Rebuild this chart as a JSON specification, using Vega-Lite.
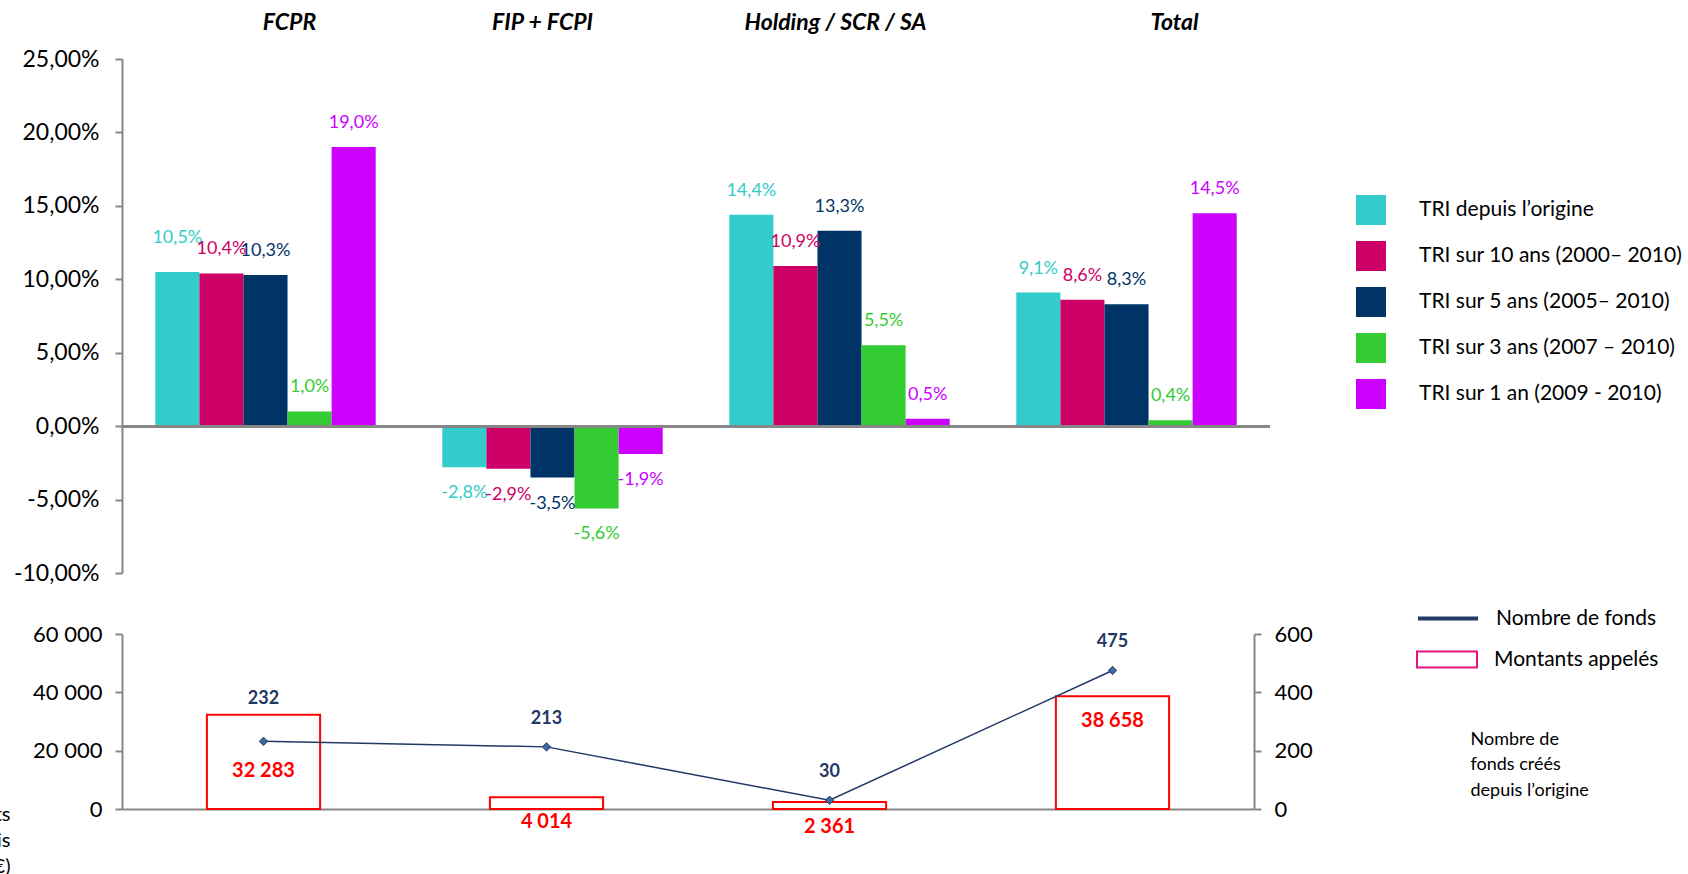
{
  "$schema": "https://vega.github.io/schema/vega-lite/v6.json",
  "background": "white",
  "padding": {"left": -120, "top": 11, "right": 5, "bottom": 0},
  "config": {
    "locale": {"number": {"decimal": ",", "thousands": " ", "grouping": [3], "currency": ["", " €"], "minus": "-"}},
    "font": "Lato",
    "view": {"stroke": null},
    "axis": {"grid": false, "labelFont": "Lato", "titleFont": "Lato", "labelColor": "#000000", "titleColor": "#000000", "domainColor": "#868686", "tickColor": "#868686", "domainWidth": 2, "tickWidth": 2, "tickSize": 7},
    "legend": {"labelFont": "Lato"}
  },
  "datasets": {
    "tri": [
      {"categorie": "FCPR", "serie": "TRI depuis l’origine", "tri": 0.105},
      {"categorie": "FCPR", "serie": "TRI sur 10 ans (2000– 2010)", "tri": 0.104},
      {"categorie": "FCPR", "serie": "TRI sur 5 ans (2005– 2010)", "tri": 0.103},
      {"categorie": "FCPR", "serie": "TRI sur 3 ans (2007 – 2010)", "tri": 0.010},
      {"categorie": "FCPR", "serie": "TRI sur 1 an (2009 - 2010)", "tri": 0.190},
      {"categorie": "FIP + FCPI", "serie": "TRI depuis l’origine", "tri": -0.028},
      {"categorie": "FIP + FCPI", "serie": "TRI sur 10 ans (2000– 2010)", "tri": -0.029},
      {"categorie": "FIP + FCPI", "serie": "TRI sur 5 ans (2005– 2010)", "tri": -0.035},
      {"categorie": "FIP + FCPI", "serie": "TRI sur 3 ans (2007 – 2010)", "tri": -0.056},
      {"categorie": "FIP + FCPI", "serie": "TRI sur 1 an (2009 - 2010)", "tri": -0.019},
      {"categorie": "Holding / SCR / SA", "serie": "TRI depuis l’origine", "tri": 0.144},
      {"categorie": "Holding / SCR / SA", "serie": "TRI sur 10 ans (2000– 2010)", "tri": 0.109},
      {"categorie": "Holding / SCR / SA", "serie": "TRI sur 5 ans (2005– 2010)", "tri": 0.133},
      {"categorie": "Holding / SCR / SA", "serie": "TRI sur 3 ans (2007 – 2010)", "tri": 0.055},
      {"categorie": "Holding / SCR / SA", "serie": "TRI sur 1 an (2009 - 2010)", "tri": 0.005},
      {"categorie": "Total", "serie": "TRI depuis l’origine", "tri": 0.091},
      {"categorie": "Total", "serie": "TRI sur 10 ans (2000– 2010)", "tri": 0.086},
      {"categorie": "Total", "serie": "TRI sur 5 ans (2005– 2010)", "tri": 0.083},
      {"categorie": "Total", "serie": "TRI sur 3 ans (2007 – 2010)", "tri": 0.004},
      {"categorie": "Total", "serie": "TRI sur 1 an (2009 - 2010)", "tri": 0.145}
    ],
    "fonds": [
      {"categorie": "FCPR", "montant": 32283, "nombre": 232},
      {"categorie": "FIP + FCPI", "montant": 4014, "nombre": 213},
      {"categorie": "Holding / SCR / SA", "montant": 2361, "nombre": 30},
      {"categorie": "Total", "montant": 38658, "nombre": 475}
    ]
  },
  "bounds": "flush",
  "spacing": 61,
  "vconcat": [
    {
      "width": 1148,
      "height": 514,
      "data": {"name": "tri"},
      "layer": [
        {
          "mark": {"type": "bar"},
          "encoding": {
            "x": {"field": "categorie", "type": "nominal", "sort": ["FCPR", "FIP + FCPI", "Holding / SCR / SA", "Total"], "scale": {"paddingInner": 0.232, "paddingOuter": 0.116},
              "axis": {"orient": "top", "title": null, "domain": false, "ticks": false, "labelAngle": 0, "labelFontSize": 23, "labelFontWeight": "bold", "labelFontStyle": "italic", "labelPadding": 25, "labelLimit": 400,
                "labelOffset": {"expr": "datum.value === 'FCPR' ? 24 : datum.value === 'FIP + FCPI' ? -10 : datum.value === 'Total' ? 48 : -4"}}},
            "xOffset": {"field": "serie", "type": "nominal", "sort": ["TRI depuis l’origine", "TRI sur 10 ans (2000– 2010)", "TRI sur 5 ans (2005– 2010)", "TRI sur 3 ans (2007 – 2010)", "TRI sur 1 an (2009 - 2010)"], "scale": {"paddingInner": 0, "paddingOuter": 0}},
            "y": {"field": "tri", "type": "quantitative", "scale": {"domain": [-0.1, 0.25], "nice": false},
              "axis": {"title": null, "format": ".2%", "values": [-0.1, -0.05, 0, 0.05, 0.1, 0.15, 0.2, 0.25], "labelFontSize": 23, "labelPadding": 16}},
            "color": {"field": "serie", "type": "nominal",
              "scale": {"domain": ["TRI depuis l’origine", "TRI sur 10 ans (2000– 2010)", "TRI sur 5 ans (2005– 2010)", "TRI sur 3 ans (2007 – 2010)", "TRI sur 1 an (2009 - 2010)"], "range": ["#33CCCC", "#CC0066", "#003366", "#33CC33", "#CC00FF"]},
              "legend": {"orient": "none", "legendX": 1234, "legendY": 136, "title": null, "symbolType": "square", "symbolSize": 900, "symbolStrokeWidth": 0, "symbolOpacity": 1, "labelFontSize": 21, "labelColor": "#000000", "labelOffset": 33, "rowPadding": 16, "padding": 0, "labelLimit": 400}}
          }
        },
        {
          "transform": [{"filter": "datum.tri >= 0 && !(datum.categorie === 'FCPR' && datum.serie === 'TRI depuis l’origine')"}],
          "mark": {"type": "text", "baseline": "middle", "dy": -24, "fontSize": 18},
          "encoding": {
            "x": {"field": "categorie", "type": "nominal", "sort": ["FCPR", "FIP + FCPI", "Holding / SCR / SA", "Total"]},
            "xOffset": {"field": "serie", "type": "nominal", "sort": ["TRI depuis l’origine", "TRI sur 10 ans (2000– 2010)", "TRI sur 5 ans (2005– 2010)", "TRI sur 3 ans (2007 – 2010)", "TRI sur 1 an (2009 - 2010)"]},
            "y": {"field": "tri", "type": "quantitative"},
            "color": {"field": "serie", "type": "nominal"},
            "text": {"field": "tri", "type": "quantitative", "format": ".1%"}
          }
        },
        {
          "transform": [{"filter": "datum.categorie === 'FCPR' && datum.serie === 'TRI depuis l’origine'"}],
          "mark": {"type": "text", "baseline": "middle", "dy": -34, "fontSize": 18},
          "encoding": {
            "x": {"field": "categorie", "type": "nominal", "sort": ["FCPR", "FIP + FCPI", "Holding / SCR / SA", "Total"]},
            "xOffset": {"field": "serie", "type": "nominal", "sort": ["TRI depuis l’origine", "TRI sur 10 ans (2000– 2010)", "TRI sur 5 ans (2005– 2010)", "TRI sur 3 ans (2007 – 2010)", "TRI sur 1 an (2009 - 2010)"]},
            "y": {"field": "tri", "type": "quantitative"},
            "color": {"field": "serie", "type": "nominal"},
            "text": {"field": "tri", "type": "quantitative", "format": ".1%"}
          }
        },
        {
          "transform": [{"filter": "datum.tri < 0"}],
          "mark": {"type": "text", "baseline": "middle", "dy": 26, "fontSize": 18},
          "encoding": {
            "x": {"field": "categorie", "type": "nominal", "sort": ["FCPR", "FIP + FCPI", "Holding / SCR / SA", "Total"]},
            "xOffset": {"field": "serie", "type": "nominal", "sort": ["TRI depuis l’origine", "TRI sur 10 ans (2000– 2010)", "TRI sur 5 ans (2005– 2010)", "TRI sur 3 ans (2007 – 2010)", "TRI sur 1 an (2009 - 2010)"]},
            "y": {"field": "tri", "type": "quantitative"},
            "color": {"field": "serie", "type": "nominal"},
            "text": {"field": "tri", "type": "quantitative", "format": ".1%"}
          }
        },
        {
          "mark": {"type": "rule", "color": "#868686", "strokeWidth": 2},
          "encoding": {"y": {"datum": 0}}
        }
      ]
    },
    {
      "width": 1132,
      "height": 175,
      "data": {"name": "fonds"},
      "layer": [
        {
          "layer": [
            {
              "mark": {"type": "bar", "stroke": "#FF0000", "strokeWidth": 2},
              "encoding": {
                "x": {"field": "categorie", "type": "nominal", "sort": ["FCPR", "FIP + FCPI", "Holding / SCR / SA", "Total"], "scale": {"paddingInner": 0.6, "paddingOuter": 0.3},
                  "axis": {"title": null, "labels": false, "ticks": false, "domain": true}},
                "y": {"field": "montant", "type": "quantitative", "scale": {"domain": [0, 60000], "nice": false},
                  "axis": {"title": ["Montants", "appelés depuis", "l’origine (M€)"], "titleAngle": 0, "titleAlign": "right", "titleBaseline": "top", "titleX": -112, "titleY": 170, "titleFontSize": 20, "titleFontWeight": "normal", "titleLineHeight": 26,
                    "format": ",d", "values": [0, 20000, 40000, 60000], "labelFontSize": 22, "labelPadding": 13}},
                "fill": {"datum": "Montants appelés",
                  "scale": {"domain": ["Montants appelés"], "range": ["transparent"]},
                  "legend": {"orient": "none", "legendX": 1314, "legendY": 589.5, "title": null, "symbolType": "M-3,-0.8H3V0.8H-3Z", "symbolSize": 400, "symbolStrokeColor": "#E8117F", "symbolStrokeWidth": 2, "symbolOpacity": 1, "labelFontSize": 21, "labelColor": "#000000", "labelOffset": 36, "padding": 0, "labelLimit": 400}}
              }
            },
            {
              "transform": [{"filter": "datum.categorie === 'FCPR'"}],
              "mark": {"type": "text", "baseline": "middle", "dy": 56, "fontSize": 20, "fontWeight": "bold", "color": "#FF0000"},
              "encoding": {
                "x": {"field": "categorie", "type": "nominal", "sort": ["FCPR", "FIP + FCPI", "Holding / SCR / SA", "Total"]},
                "y": {"field": "montant", "type": "quantitative"},
                "text": {"field": "montant", "type": "quantitative", "format": ",d"}
              }
            },
            {
              "transform": [{"filter": "datum.categorie !== 'FCPR'"}],
              "mark": {"type": "text", "baseline": "middle", "dy": 25, "fontSize": 20, "fontWeight": "bold", "color": "#FF0000"},
              "encoding": {
                "x": {"field": "categorie", "type": "nominal", "sort": ["FCPR", "FIP + FCPI", "Holding / SCR / SA", "Total"]},
                "y": {"field": "montant", "type": "quantitative"},
                "text": {"field": "montant", "type": "quantitative", "format": ",d"}
              }
            }
          ]
        },
        {
          "layer": [
            {
              "mark": {"type": "line", "strokeWidth": 1.5},
              "encoding": {
                "x": {"field": "categorie", "type": "nominal", "sort": ["FCPR", "FIP + FCPI", "Holding / SCR / SA", "Total"]},
                "y": {"field": "nombre", "type": "quantitative", "scale": {"domain": [0, 600], "nice": false},
                  "axis": {"orient": "right", "title": ["Nombre de", "fonds créés", "depuis l’origine"], "titleAngle": 0, "titleAlign": "left", "titleBaseline": "top", "titleX": 216, "titleY": 96, "titleFontSize": 18, "titleFontWeight": "normal", "titleLineHeight": 25.5,
                    "format": "d", "values": [0, 200, 400, 600], "labelFontSize": 22, "labelPadding": 13}},
                "stroke": {"datum": "Nombre de fonds",
                  "scale": {"domain": ["Nombre de fonds"], "range": ["#1F3864"]},
                  "legend": {"orient": "none", "legendX": 1314, "legendY": 547.5, "title": null, "symbolType": "M-3,0H3", "symbolSize": 400, "symbolStrokeWidth": 4, "symbolOpacity": 1, "labelFontSize": 21, "labelColor": "#000000", "labelOffset": 36, "padding": 0, "labelLimit": 400}}
              }
            },
            {
              "mark": {"type": "point", "shape": "diamond", "filled": true, "fill": "#3A6BA5", "stroke": "#1F3864", "strokeWidth": 1, "size": 70, "opacity": 1},
              "encoding": {
                "x": {"field": "categorie", "type": "nominal", "sort": ["FCPR", "FIP + FCPI", "Holding / SCR / SA", "Total"]},
                "y": {"field": "nombre", "type": "quantitative"}
              }
            },
            {
              "transform": [{"filter": "datum.categorie === 'FCPR'"}],
              "mark": {"type": "text", "baseline": "middle", "dy": -42, "fontSize": 18, "fontWeight": "bold", "color": "#1F3864"},
              "encoding": {
                "x": {"field": "categorie", "type": "nominal", "sort": ["FCPR", "FIP + FCPI", "Holding / SCR / SA", "Total"]},
                "y": {"field": "nombre", "type": "quantitative"},
                "text": {"field": "nombre", "type": "quantitative", "format": "d"}
              }
            },
            {
              "transform": [{"filter": "datum.categorie !== 'FCPR'"}],
              "mark": {"type": "text", "baseline": "middle", "dy": -28, "fontSize": 18, "fontWeight": "bold", "color": "#1F3864"},
              "encoding": {
                "x": {"field": "categorie", "type": "nominal", "sort": ["FCPR", "FIP + FCPI", "Holding / SCR / SA", "Total"]},
                "y": {"field": "nombre", "type": "quantitative"},
                "text": {"field": "nombre", "type": "quantitative", "format": "d"}
              }
            }
          ]
        }
      ],
      "resolve": {"scale": {"y": "independent"}}
    }
  ]
}
